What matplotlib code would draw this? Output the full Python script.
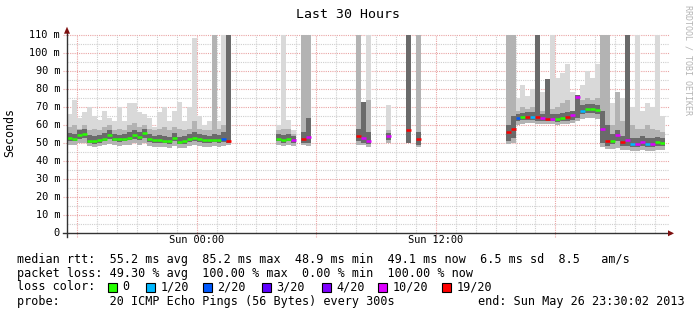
import numpy as np
import matplotlib
matplotlib.use('Agg')
import matplotlib.pyplot as plt
from matplotlib.patches import Polygon, Rectangle

W, H, DPI = 697, 315, 100

# ---------------- data (15-minute slots from Sat 17:30) ----------------
slot = [0, 1, 2, 3, 4, 5, 6, 7, 8, 9, 10, 11, 12, 13, 14, 15, 16, 17, 18, 19,
        20, 21, 22, 23, 24, 25, 26, 27, 28, 29, 30, 31, 32,
        42, 43, 44, 45, 47, 48, 58, 59, 60, 64, 68, 70,
        88, 89, 90, 91, 92, 93, 94, 95, 96, 97, 98, 99, 100, 101,
        102, 103, 104, 105, 106, 107, 108, 109, 110, 111, 112, 113, 114, 115, 116, 117, 118, 119]

median_ms = [52.6, 52.3, 54.3, 55.2, 51.3, 51.2, 51.8, 52.5, 54.2, 52.3, 52.0, 52.4, 53.0, 54.4, 53.2,
             55.3, 52.0, 51.4, 51.6, 51.2, 51.0, 52.8, 50.8, 51.0, 52.0, 52.6, 52.0, 51.6, 51.4, 51.8,
             51.5, 52.0, 51.0,
             52.5, 51.5, 52.5, 51.5, 52.5, 53.5, 54.0, 53.0, 51.0, 54.0, 57.0, 52.0,
             56.0, 58.0, 64.0, 64.2, 64.5, 64.6, 64.5, 63.7, 63.5, 63.5, 63.4, 64.0, 64.2, 65.5,
             75.5, 68.0, 68.8, 69.0, 68.5, 58.0, 51.0, 51.3, 54.5, 50.7, 51.5, 49.5, 49.5, 50.7,
             49.5, 49.5, 50.3, 50.0]

loss = [0, 0, 0, 0, 0, 0, 0, 0, 0, 0, 0, 0, 0, 0, 0, 0, 0, 0, 0, 0, 0, 0, 0, 0, 0, 0, 0, 0, 0, 0,
        0, 2, 19,
        0, 0, 0, 10, 19, 10, 19, 10, 10, 10, 19, 19,
        19, 19, 2, 0, 19, 1, 19, 10, 19, 10, 0, 0, 19, 10,
        10, 1, 0, 0, 0, 10, 19, 0, 10, 19, 10, 1, 10, 10, 1, 10, 0, 0]

smoke_min = [49, 49, 50, 50, 48.5, 48, 48.5, 49, 49.5, 49, 48.5, 49, 49, 50, 49, 50, 48.5, 48, 48, 48,
             47.5, 48.5, 47.5, 47.5, 48.5, 49, 48.5, 48, 48, 48.5, 48, 48.5, 49,
             49, 48.5, 49, 48.5, 49, 48.5, 49, 49, 48, 50, 50, 48,
             49.5, 50, 60, 60.5, 61, 61, 60.5, 60.5, 60.5, 60.5, 60, 60.5, 60.5, 61,
             62, 63.5, 64, 64, 63.5, 48, 46.5, 46.5, 47, 46, 46, 45.5, 45.5, 46, 45.5, 45.5, 46, 46]

smoke_inner_lo = [51, 51, 52.5, 53, 50, 49.5, 50, 51, 52.5, 51, 50.5, 51, 51.5, 52.5, 51.5, 53, 50.5, 50,
                  50, 50, 49.5, 51, 49.5, 49.5, 50.5, 51, 50.5, 50, 50, 50.5, 50, 50.5, 50,
                  51, 50, 51, 50, 50, 50, 51, 50, 49.5, 51.5, 50, 49,
                  51, 53, 62, 62.5, 62.5, 62.5, 62, 62, 62, 62, 61.5, 62, 62, 63,
                  64, 66, 66.5, 66.5, 66, 50, 48.5, 49.5, 51, 48.5, 48.5, 48, 48, 48.5, 48, 48, 48.5, 48.5]

smoke_inner_hi = [55.5, 55, 57, 58, 54.5, 54, 54.5, 55.5, 57, 55, 54.5, 55, 56, 57, 56, 58, 55, 54, 54.5,
                  54, 53.5, 55.5, 53.5, 54, 55, 56, 55, 54.5, 54, 55, 54.5, 56, 120,
                  55, 54.5, 55, 54, 56, 64, 58, 73, 56, 55.5, 120, 56,
                  60, 65, 66, 66.5, 67, 67, 120, 66, 85.5, 66, 66, 66.5, 67, 67.5,
                  76.5, 71, 71.5, 71.5, 71, 68, 60, 55, 57, 54, 120, 53, 53, 54, 53, 53, 53.5, 53]

smoke_mid_hi = [59, 60, 58, 60, 57, 58, 57, 59, 60, 57, 58, 57, 60, 61, 59, 60, 58, 57, 58, 59,
                57, 59, 58, 57, 58, 62, 58, 57, 57, 120, 58, 60, 120,
                57, 58, 58, 55, 120, 120, 120, 73, 74, 57, 120, 120,
                120, 120, 68, 70, 69, 70, 120, 68, 85.5, 69, 70, 72, 74, 68,
                76.5, 74, 75, 74, 75, 120, 120, 60, 78, 62, 120, 60, 58, 58, 60, 58, 57, 56]

smoke_max = [66, 74, 64, 67, 70, 65, 63, 68, 64, 62, 70, 62, 72, 72, 67, 66, 64, 59, 67, 70,
             62, 68, 73, 62, 70, 108, 65, 60, 62, 120, 62, 120, 120,
             60, 120, 63, 57, 120, 120, 120, 73, 120, 71, 120, 120,
             120, 120, 75, 82, 76, 80, 120, 78, 85.5, 120, 86, 89, 94, 78,
             76.5, 82, 90, 86, 94, 120, 120, 72, 78, 75, 120, 70, 120, 68, 72, 70, 120, 65]

loss_levels = [0, 1, 2, 3, 4, 10, 19]
loss_labels = ['0', '1/20', '2/20', '3/20', '4/20', '10/20', '19/20']
loss_colors = ['#26ff00', '#00b8ff', '#0059ff', '#5e00ff', '#7e00ff', '#dd00ff', '#ff0000']

ytick_vals = [0, 10, 20, 30, 40, 50, 60, 70, 80, 90, 100, 110]
ytick_labels = ['0', '10 m', '20 m', '30 m', '40 m', '50 m', '60 m', '70 m', '80 m', '90 m', '100 m', '110 m']
xtick_hours = [6.5, 18.5]
xtick_labels = ['Sun 00:00', 'Sun 12:00']
major_hours = [0.5, 6.5, 12.5, 18.5, 24.5]

title = 'Last 30 Hours'
legend_rtt = 'median rtt:  55.2 ms avg  85.2 ms max  48.9 ms min  49.1 ms now  6.5 ms sd  8.5   am/s'
legend_loss = 'packet loss: 49.30 % avg  100.00 % max  0.00 % min  100.00 % now'
legend_probe = 'probe:       20 ICMP Echo Pings (56 Bytes) every 300s'
legend_end = 'end: Sun May 26 23:30:02 2013'

# ---------------- figure ----------------
MONO = 'DejaVu Sans Mono'
plt.rcParams['font.family'] = MONO
fig = plt.figure(figsize=(W / DPI, H / DPI), dpi=DPI)
fig.patch.set_facecolor('white')

x0, y0, x1, y1 = 67, 233.3, 665, 34.7
ax = fig.add_axes([x0 / W, (H - y0) / H, (x1 - x0) / W, (y0 - y1) / H])
ax.set_xlim(0, 30)
ax.set_ylim(0, 110)
ax.axis('off')

ppx_h = (x1 - x0) / 30.0      # pixels per hour
ppx_v = (y0 - y1) / 110.0     # pixels per ms

minor_c = '#cfcfcf'
major_c = '#eaa4a4'
dots = (0, (1, 1))
# horizontal grid
for v in range(5, 111, 5):
    if v % 10 == 0:
        ax.plot([-4 / ppx_h, 30 + 4 / ppx_h], [v, v], color=major_c, lw=0.8, ls=dots, clip_on=False, zorder=1)
    else:
        ax.plot([0, 30 + 4 / ppx_h], [v, v], color=minor_c, lw=0.8, ls=dots, clip_on=False, zorder=1)
# vertical grid
for k in range(30):
    h = 0.5 + k
    if h in major_hours:
        ax.plot([h, h], [-4 / ppx_v, 110], color=major_c, lw=0.8, ls=dots, clip_on=False, zorder=1)
    else:
        ax.plot([h, h], [0, 110], color=minor_c, lw=0.8, ls=dots, clip_on=False, zorder=1)

# smoke
t = np.array(slot) * 0.25
lo = np.array(smoke_min)
ilo = np.array(smoke_inner_lo)
ihi = np.array(smoke_inner_hi)
mhi = np.array(smoke_mid_hi)
hi = np.array(smoke_max)
ax.bar(t, hi - lo, bottom=lo, width=0.25, align='edge', color='#d9d9d9', linewidth=0, zorder=2)
ax.bar(t, mhi - lo, bottom=lo, width=0.25, align='edge', color='#b3b3b3', linewidth=0, zorder=3)
ax.bar(t, ihi - ilo, bottom=ilo, width=0.25, align='edge', color='#6a6a6a', linewidth=0, zorder=4)

# median coloured by loss
cmap = dict(zip(loss_levels, loss_colors))
ax.hlines(median_ms, t, t + 0.25, colors=[cmap[l] for l in loss], linewidth=1.8, zorder=5)

# axes lines and arrows
axis_c = '#333333'
arrow_c = '#7f1010'
ax.plot([-4 / ppx_h, 30 + 6 / ppx_h], [0, 0], color=axis_c, lw=1.0, clip_on=False, zorder=6)
ax.plot([0, 0], [-4 / ppx_v, 110 + 2 / ppx_v], color=axis_c, lw=1.0, clip_on=False, zorder=6)
ax.add_patch(Polygon([[30 + 3 / ppx_h, 3 / ppx_v], [30 + 3 / ppx_h, -3 / ppx_v], [30 + 9 / ppx_h, 0]],
                     closed=True, color=arrow_c, clip_on=False, zorder=7, lw=0))
ax.add_patch(Polygon([[-3 / ppx_h, 110 + 1 / ppx_v], [3 / ppx_h, 110 + 1 / ppx_v], [0, 110 + 8 / ppx_v]],
                     closed=True, color=arrow_c, clip_on=False, zorder=7, lw=0))

# tick labels
for v, lab in zip(ytick_vals, ytick_labels):
    ax.text(-7 / ppx_h, v, lab, ha='right', va='center', fontsize=7.4, family=MONO, clip_on=False)
for h, lab in zip(xtick_hours, xtick_labels):
    ax.text(h, -7 / ppx_v, lab, ha='center', va='center', fontsize=7.4, family=MONO, clip_on=False)

def fx(px):
    return px / W

def fy(py):
    return 1 - py / H

fig.text(fx(348), fy(14), title, ha='center', va='center', fontsize=9.5, family=MONO)
fig.text(fx(10), fy(132), 'Seconds', ha='center', va='center', rotation=90, fontsize=8.4, family=MONO)
fig.text(fx(688), fy(60), 'RRDTOOL / TOBI OETIKER', ha='center', va='center', rotation=270,
         fontsize=6, family=MONO, color='#b4b4b4')

LF = 8.46
fig.text(fx(17), fy(259), legend_rtt, ha='left', va='center', fontsize=LF, family=MONO)
fig.text(fx(17), fy(273), legend_loss, ha='left', va='center', fontsize=LF, family=MONO)
fig.text(fx(17), fy(287), 'loss color:', ha='left', va='center', fontsize=LF, family=MONO)
sq_x = [108, 146, 203, 262, 322, 378, 442]
for sx, lab, col in zip(sq_x, loss_labels, loss_colors):
    fig.patches.append(Rectangle((fx(sx), fy(292)), 8.5 / W, 9 / H, transform=fig.transFigure,
                                 facecolor=col, edgecolor='black', lw=0.8))
    fig.text(fx(sx + 14.5), fy(287), lab, ha='left', va='center', fontsize=LF, family=MONO)
fig.text(fx(17), fy(301.5), legend_probe, ha='left', va='center', fontsize=LF, family=MONO)
fig.text(fx(478), fy(301.5), legend_end, ha='left', va='center', fontsize=LF, family=MONO)

fig.savefig('out.png', dpi=DPI, facecolor='white')
